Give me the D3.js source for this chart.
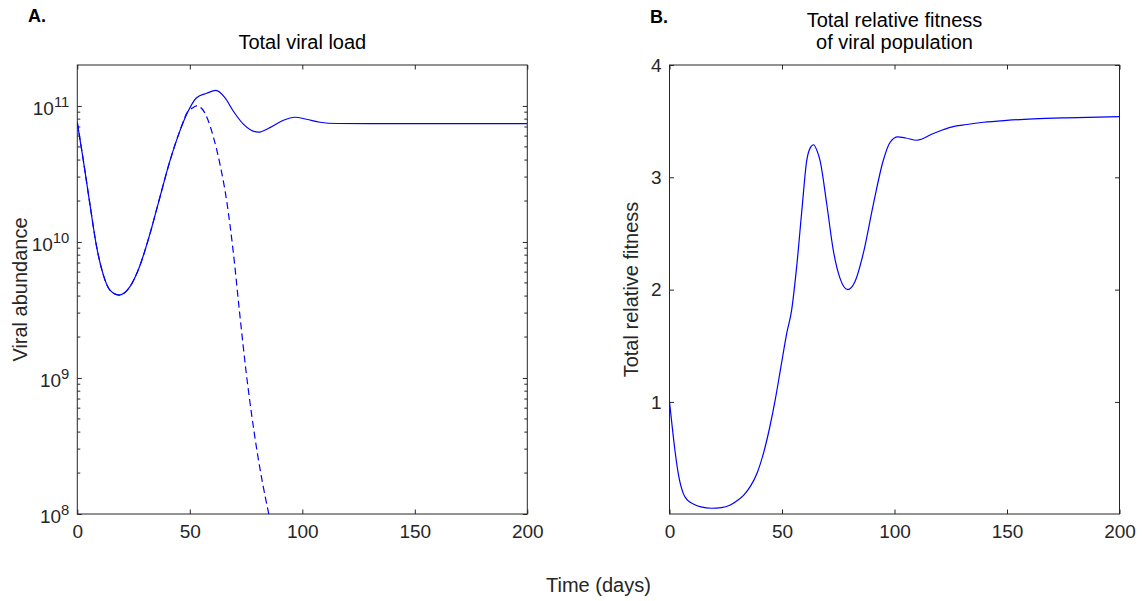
<!DOCTYPE html>
<html>
<head>
<meta charset="utf-8">
<script src="https://cdn.jsdelivr.net/npm/d3@7/dist/d3.min.js"></script>
<style>
body { margin: 0; background: #fff; }
svg text { font-family: "Liberation Sans", Arial, Helvetica, sans-serif; }
</style>
</head>
<body>
<div id="chart"></div>
<script>
var width = 1145;
var height = 601;

// panel A - total viral load, solid line
var loadDays  = [0, 2.7, 5.6, 8.6, 11.6, 14.5, 18.7, 23.4, 27.9, 32.3, 36.7, 41.2, 45.6, 49.3,
                 53.0, 57.5, 61.6, 65.6, 69.3, 73.8, 80.4, 85.6, 91.6, 96.7, 101.9, 107.9, 115.3, 130, 200];
var loadTotal = [7.55e10, 3.96e10, 1.9e10, 9.2e9, 5.7e9, 4.43e9, 4.07e9, 4.69e9, 6.75e9, 1.15e10, 2.13e10, 3.96e10, 6.56e10, 9.18e10,
                 1.15e11, 1.24e11, 1.30e11, 1.15e11, 9.18e10, 7.35e10, 6.41e10, 6.93e10, 7.85e10, 8.26e10, 7.98e10, 7.59e10, 7.43e10, 7.41e10, 7.41e10];

// panel A - dashed line
var dashDays  = [0, 2.7, 5.6, 8.6, 11.6, 14.5, 18.7, 23.4, 27.9, 32.3, 36.7, 41.2, 45.6, 49.3,
                 51.0, 53.0, 55.5, 58.0, 60.5, 63.4, 66.4, 69.3, 72.2, 75.0, 77.4, 80.0, 82.2, 85.1];
var dashLoad  = [7.55e10, 3.96e10, 1.9e10, 9.2e9, 5.7e9, 4.43e9, 4.07e9, 4.69e9, 6.75e9, 1.15e10, 2.13e10, 3.96e10, 6.56e10, 9.18e10,
                 9.6e10, 1.0e11, 9.5e10, 7.94e10, 5.9e10, 3.74e10, 2.0e10, 8.5e9, 2.95e9, 1.12e9, 5.5e8, 2.82e8, 1.74e8, 1.0e8];

// panel B - total relative fitness
var fitDays   = [0, 1.2, 2.4, 4, 6.1, 8, 10.6, 14, 18.7, 23, 27, 30, 33, 36, 39, 42, 44.5, 47, 49.5, 52.1, 54.3,
                 56.5, 58.8, 61, 62.5, 64, 65.5, 66.9, 69.9, 72.8, 75.8, 79.2, 82.4, 86.1, 90.6,
                 95, 98, 101.5, 105, 109.9, 117.3, 124.7, 132.1, 139.5, 149.9, 161.7, 176.5, 200];
var fitValues = [1.0, 0.78, 0.572, 0.35, 0.186, 0.125, 0.091, 0.065, 0.053, 0.058, 0.082, 0.12, 0.17, 0.25, 0.37, 0.56, 0.77, 1.02, 1.31, 1.61, 1.82,
                 2.2, 2.7, 3.15, 3.26, 3.29, 3.24, 3.15, 2.76, 2.35, 2.1, 2.0, 2.07, 2.32, 2.76,
                 3.15, 3.31, 3.36, 3.35, 3.33, 3.39, 3.445, 3.47, 3.49, 3.507, 3.52, 3.53, 3.54];

var xTicks = [0, 50, 100, 150, 200];
var loadTicks = [1e8, 1e9, 1e10, 1e11];
var minorMult = [2, 3, 4, 5, 6, 7, 8, 9];
var fitTicks = [1, 2, 3, 4];

var axisColor = "#262626";
var lineColor = "#0000ff";
var plotTop = 65, plotBottom = 514;

var svg = d3.select("#chart")
	.append("svg")
	.attr("width", width)
	.attr("height", height);

var xA = d3.scaleLinear().domain([0, 200]).range([77.3, 527.3]);
var yA = d3.scaleLog().domain([1e8, 2e11]).range([plotBottom, plotTop]);
var xB = d3.scaleLinear().domain([0, 200]).range([669.5, 1119.5]);
var yB = d3.scaleLinear().domain([0.002, 4]).range([plotBottom, plotTop]);

function styleAxis(g) {
	g.select(".domain").remove();
	g.style("color", axisColor)
		.attr("font-size", "19px")
		.attr("font-family", null);
	g.selectAll(".tick line").attr("stroke-width", 1);
	g.selectAll(".tick text").attr("fill", axisColor);
}

function drawFrame(name, x, y, yTicks) {
	var g = svg.append("g").attr("id", name);
	var r = x.range();

	g.append("g")
		.attr("transform", "translate(0," + plotBottom + ")")
		.call(d3.axisBottom(x).tickValues(xTicks).tickFormat(d3.format("d"))
			.tickSizeInner(-4.5).tickSizeOuter(0).tickPadding(11))
		.call(styleAxis);
	g.append("g")
		.attr("transform", "translate(0," + plotTop + ")")
		.call(d3.axisTop(x).tickValues(xTicks).tickFormat("").tickSizeInner(-4.5).tickSizeOuter(0))
		.call(styleAxis);
	g.append("g")
		.attr("class", "yleft")
		.attr("transform", "translate(" + r[0] + ",0)")
		.call(d3.axisLeft(y).tickValues(yTicks).tickFormat(d3.format("d"))
			.tickSizeInner(-4.5).tickSizeOuter(0).tickPadding(8))
		.call(styleAxis);
	g.append("g")
		.attr("transform", "translate(" + r[1] + ",0)")
		.call(d3.axisRight(y).tickValues(yTicks).tickFormat("").tickSizeInner(-4.5).tickSizeOuter(0))
		.call(styleAxis);

	g.append("rect")
		.attr("x", r[0])
		.attr("y", plotTop)
		.attr("width", r[1] - r[0])
		.attr("height", plotBottom - plotTop)
		.attr("fill", "none")
		.attr("stroke", axisColor)
		.attr("stroke-width", 1);

	g.append("clipPath")
		.attr("id", name + "-clip")
		.append("rect")
		.attr("x", r[0])
		.attr("y", plotTop)
		.attr("width", r[1] - r[0])
		.attr("height", plotBottom - plotTop);
	return g;
}

// ---- panel A ----
var gA = drawFrame("panelA", xA, yA, loadTicks);

// exponent labels 10^n
gA.select(".yleft").selectAll(".tick text")
	.attr("dy", "0.45em")
	.each(function(d) {
		var t = d3.select(this);
		t.text(null);
		t.append("tspan").text("10");
		t.append("tspan")
			.attr("dy", "-0.55em")
			.attr("font-size", "0.78em")
			.text(Math.round(Math.log10(d)));
	});

// minor ticks on log axis
var minorTicks = [];
loadTicks.forEach(function(d) {
	minorMult.forEach(function(m) {
		if (d * m < yA.domain()[1]) minorTicks.push(d * m);
	});
});
[xA.range()[0], xA.range()[1]].forEach(function(xx, i) {
	gA.append("g").selectAll("line")
		.data(minorTicks)
		.enter().append("line")
		.attr("x1", xx)
		.attr("x2", i == 0 ? xx + 3 : xx - 3)
		.attr("y1", function(d) { return yA(d); })
		.attr("y2", function(d) { return yA(d); })
		.attr("stroke", axisColor)
		.attr("stroke-width", 1);
});

var lineA = d3.line()
	.x(function(d) { return xA(d[0]); })
	.y(function(d) { return yA(d[1]); })
	.curve(d3.curveMonotoneX);

gA.append("path")
	.datum(d3.zip(dashDays, dashLoad))
	.attr("clip-path", "url(#panelA-clip)")
	.attr("d", lineA)
	.attr("fill", "none")
	.attr("stroke", lineColor)
	.attr("stroke-width", 1.2)
	.attr("stroke-dasharray", "7,4");

gA.append("path")
	.datum(d3.zip(loadDays, loadTotal))
	.attr("clip-path", "url(#panelA-clip)")
	.attr("d", lineA)
	.attr("fill", "none")
	.attr("stroke", lineColor)
	.attr("stroke-width", 1.2);

// ---- panel B ----
var gB = drawFrame("panelB", xB, yB, fitTicks);

var lineB = d3.line()
	.x(function(d) { return xB(d[0]); })
	.y(function(d) { return yB(d[1]); })
	.curve(d3.curveMonotoneX);

gB.append("path")
	.datum(d3.zip(fitDays, fitValues))
	.attr("clip-path", "url(#panelB-clip)")
	.attr("d", lineB)
	.attr("fill", "none")
	.attr("stroke", lineColor)
	.attr("stroke-width", 1.2);

// ---- titles and labels ----
svg.append("text")
	.attr("x", 28)
	.attr("y", 22)
	.style("font-size", "18px")
	.style("font-weight", "bold")
	.attr("fill", "#000")
	.text("A.");

svg.append("text")
	.attr("x", 650)
	.attr("y", 23)
	.style("font-size", "18px")
	.style("font-weight", "bold")
	.attr("fill", "#000")
	.text("B.");

svg.append("text")
	.attr("x", d3.mean(xA.range()))
	.attr("y", 49)
	.attr("text-anchor", "middle")
	.style("font-size", "20px")
	.attr("fill", "#000")
	.text("Total viral load");

svg.append("text")
	.attr("x", d3.mean(xB.range()))
	.attr("y", 26.5)
	.attr("text-anchor", "middle")
	.style("font-size", "20px")
	.attr("fill", "#000")
	.text("Total relative fitness");

svg.append("text")
	.attr("x", d3.mean(xB.range()))
	.attr("y", 49)
	.attr("text-anchor", "middle")
	.style("font-size", "20px")
	.attr("fill", "#000")
	.text("of viral population");

svg.append("text")
	.attr("transform", "translate(27," + (plotTop + plotBottom) / 2 + ") rotate(-90)")
	.attr("text-anchor", "middle")
	.style("font-size", "20px")
	.attr("fill", axisColor)
	.text("Viral abundance");

svg.append("text")
	.attr("transform", "translate(638," + (plotTop + plotBottom) / 2 + ") rotate(-90)")
	.attr("text-anchor", "middle")
	.style("font-size", "20px")
	.attr("fill", axisColor)
	.text("Total relative fitness");

svg.append("text")
	.attr("x", (xA.range()[0] + xB.range()[1]) / 2)
	.attr("y", 592)
	.attr("text-anchor", "middle")
	.style("font-size", "20px")
	.attr("fill", axisColor)
	.text("Time (days)");
</script>
</body>
</html>
